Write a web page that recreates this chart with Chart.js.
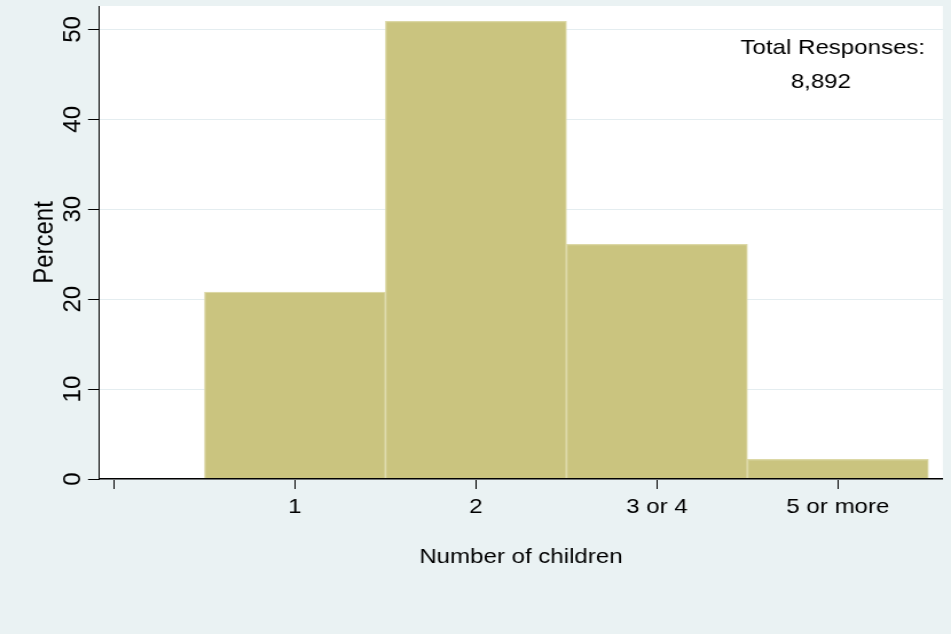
<!DOCTYPE html>
<html><head><meta charset="utf-8">
<script src="https://cdn.jsdelivr.net/npm/chart.js@4/dist/chart.umd.min.js"></script>
<style>
html,body{margin:0;padding:0;background:#EAF2F3;overflow:hidden}
#wrap{width:951px;height:634px;overflow:hidden}
#c{display:block;transform:scaleX(1.14578);transform-origin:0 0}
</style></head><body>
<div id="wrap"><canvas id="c" width="830" height="634" style="width:830px;height:634px"></canvas></div>
<script>
// ---- data ----
const categories = [1, 2, 3, 4];
const percentValues = [20.8, 50.9, 26.1, 2.2];
const xTickValues = [0, 1, 2, 3, 4];
const xTickLabels = ['', '1', '2', '3 or 4', '5 or more'];
const yTickValues = [0, 10, 20, 30, 40, 50];
const annotationLines = ['Total Responses:', '8,892'];

const FONT = '"Liberation Sans", Arial, Helvetica, sans-serif';
Chart.defaults.font.family = FONT;
Chart.defaults.font.size = 21;
Chart.defaults.color = '#000';

const bgPlugin = {
  id: 'bg',
  beforeDraw(chart) {
    const {ctx, chartArea: a} = chart;
    ctx.save();
    ctx.fillStyle = '#EAF2F3';
    ctx.fillRect(0, 0, chart.width, chart.height);
    ctx.fillStyle = '#FFFFFF';
    ctx.fillRect(a.left, a.top, a.right - a.left, a.bottom - a.top);
    ctx.restore();
  }
};

const overlay = {
  id: 'overlay',
  afterDraw(chart) {
    const {ctx, scales: {x, y}} = chart;
    ctx.save();
    ctx.fillStyle = '#000';
    // rotated y tick labels
    ctx.font = '24px ' + FONT;
    ctx.textAlign = 'center';
    ctx.textBaseline = 'alphabetic';
    y.ticks.forEach(t => {
      const py = y.getPixelForValue(t.value);
      ctx.save();
      ctx.translate(y.right - 16.6, py);
      ctx.rotate(-Math.PI / 2);
      ctx.scale(1, 0.89);
      ctx.fillText(String(t.value), 0, 0);
      ctx.restore();
    });
    // annotation text
    ctx.font = '21px ' + FONT;
    ctx.textBaseline = 'middle';
    const annX = [3.972, 3.906];
    const annY = [47.9, 44.1];
    annotationLines.forEach((txt, i) => {
      ctx.fillText(txt, x.getPixelForValue(annX[i]), y.getPixelForValue(annY[i]));
    });
    ctx.restore();
  }
};

new Chart(document.getElementById('c'), {
  type: 'bar',
  data: {
    datasets: [{
      data: categories.map((c, i) => ({x: c, y: percentValues[i]})),
      backgroundColor: '#CAC47F',
      borderColor: '#DCD8A6',
      borderWidth: 1.3,
      barPercentage: 1,
      categoryPercentage: 1
    }]
  },
  options: {
    responsive: false,
    animation: false,
    events: [],
    layout: {padding: {left: 0, right: 7.1, top: 6, bottom: 0}},
    plugins: {legend: {display: false}, tooltip: {enabled: false}, title: {display: false}},
    scales: {
      x: {
        type: 'linear',
        min: -0.083,
        max: 4.58,
        offset: false,
        afterBuildTicks: s => { s.ticks = xTickValues.map(v => ({value: v})); },
        afterFit: s => { s.height = 155; },
        grid: {offset: false, drawOnChartArea: false, drawTicks: true, tickLength: 10, tickColor: '#000', tickWidth: 1},
        border: {display: true, color: '#000', width: 1.5, z: 1},
        ticks: {
          color: '#000', padding: 6, maxRotation: 0, minRotation: 0, autoSkip: false,
          callback: v => { const k = xTickValues.indexOf(v); return k >= 0 ? xTickLabels[k] : ''; }
        },
        title: {display: true, text: 'Number of children', color: '#000', padding: {top: 0, bottom: 64}}
      },
      y: {
        type: 'linear',
        min: 0,
        max: 52.6,
        afterBuildTicks: s => { s.ticks = yTickValues.map(v => ({value: v})); },
        afterFit: s => { s.width = 86.4; },
        grid: {color: '#E4EDF0', lineWidth: 1, tickColor: '#000', tickLength: 9.6, drawTicks: true},
        border: {display: true, color: '#000', width: 1, z: 1},
        ticks: {display: false},
        title: {display: true, text: 'Percent', color: '#000', font: {size: 24}, padding: {top: 24.5, bottom: 0}}
      }
    }
  },
  plugins: [bgPlugin, overlay]
});
</script>
</body></html>
